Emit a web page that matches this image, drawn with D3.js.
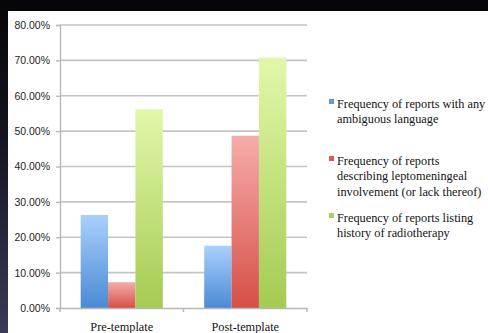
<!DOCTYPE html>
<html>
<head>
<meta charset="utf-8">
<script src="https://cdn.jsdelivr.net/npm/d3@7"></script>
<style>
  html, body { margin: 0; padding: 0; }
  body { width: 488px; height: 333px; overflow: hidden;
         background: linear-gradient(to bottom, #050509 0%, #14141f 40%, #3a3a58 100%); }
</style>
</head>
<body>
<svg id="chart" width="488" height="333"></svg>
<script>
const categories = ["Pre-template", "Post-template"];
const seriesNames = [
  "Frequency of reports with any ambiguous language",
  "Frequency of reports describing leptomeningeal involvement (or lack thereof)",
  "Frequency of reports listing history of radiotherapy"
];
const ambiguous = [0.263, 0.176];
const leptomeningeal = [0.073, 0.487];
const radiotherapy = [0.562, 0.708];
const yTicks = [0, 0.1, 0.2, 0.3, 0.4, 0.5, 0.6, 0.7, 0.8];
const legendLines = [
  ["Frequency of reports with any", "ambiguous language"],
  ["Frequency of reports", "describing leptomeningeal", "involvement (or lack thereof)"],
  ["Frequency of reports listing", "history of radiotherapy"]
];

const series = [ambiguous, leptomeningeal, radiotherapy];
const colors = [
  { top: "#aad0fc", bottom: "#4a8ad4", key: "#5b9bd5" },
  { top: "#f6acab", bottom: "#d64f47", key: "#e05a55" },
  { top: "#e2f8aa", bottom: "#a4cb52", key: "#a8d060" }
];

const svg = d3.select("#chart");

// white panel
svg.append("rect").attr("x", 8).attr("y", 11).attr("width", 480).attr("height", 322).attr("fill", "#ffffff");

const defs = svg.append("defs");
colors.forEach((c, i) => {
  const g = defs.append("linearGradient").attr("id", "grad" + i)
    .attr("x1", 0).attr("y1", 0).attr("x2", 0).attr("y2", 1);
  g.append("stop").attr("offset", "0%").attr("stop-color", c.top);
  g.append("stop").attr("offset", "100%").attr("stop-color", c.bottom);
});

const plot = { left: 60, right: 307, top: 25, bottom: 308 };

const y = d3.scaleLinear().domain([0, 0.8]).range([plot.bottom, plot.top]);
const x0 = d3.scaleBand().domain(categories).range([plot.left, plot.right]).paddingInner(0.335).paddingOuter(0.1675);
const x1 = d3.scaleBand().domain(d3.range(series.length)).range([0, x0.bandwidth()]);

// gridlines
svg.append("g").selectAll("line").data(yTicks.filter(d => d > 0)).join("line")
  .attr("x1", plot.left).attr("x2", plot.right)
  .attr("y1", d => y(d)).attr("y2", d => y(d))
  .attr("stroke", "#c4c4c4").attr("stroke-width", 1.6);

// y axis
const yAxis = d3.axisLeft(y).tickValues(yTicks).tickFormat(d3.format(".2%")).tickSize(4).tickPadding(6);
const gy = svg.append("g").attr("transform", `translate(${plot.left},0)`).call(yAxis);
gy.select(".domain").attr("stroke", "#b8b8b8").attr("stroke-width", 1.4);
gy.selectAll(".tick line").attr("stroke", "#b8b8b8").attr("stroke-width", 1.4);
gy.selectAll(".tick text").attr("font-family", "Liberation Sans, Arial, sans-serif")
  .attr("font-size", 10.5).attr("fill", "#1e1e1e");

// bars
categories.forEach((cat, ci) => {
  svg.append("g").selectAll("rect").data(series.map((s, si) => ({ si, v: s[ci] }))).join("rect")
    .attr("x", d => x0(cat) + x1(d.si))
    .attr("width", x1.bandwidth())
    .attr("y", d => y(d.v))
    .attr("height", d => y(0) - y(d.v))
    .attr("fill", d => `url(#grad${d.si})`);
});

// x axis
const xAxis = d3.axisBottom(x0).tickSize(0).tickPadding(14);
const gx = svg.append("g").attr("transform", `translate(0,${plot.bottom})`).call(xAxis);
gx.select(".domain").attr("stroke", "#b8b8b8").attr("stroke-width", 1.4);
gx.selectAll(".tick text").attr("font-family", "Liberation Serif, Times New Roman, serif")
  .attr("font-size", 12.3).attr("fill", "#141414");
// category separators
const seps = [plot.left, x0.step() + plot.left, plot.right];
svg.append("g").selectAll("line").data(seps).join("line")
  .attr("x1", d => d).attr("x2", d => d)
  .attr("y1", plot.bottom).attr("y2", plot.bottom + 4)
  .attr("stroke", "#b8b8b8").attr("stroke-width", 1.4);

// legend
const legendTop = [105, 162, 219];
const lg = svg.append("g");
legendLines.forEach((lines, i) => {
  lg.append("rect").attr("x", 329).attr("y", legendTop[i] - 6).attr("width", 5).attr("height", 5)
    .attr("fill", colors[i].key);
  const t = lg.append("text").attr("x", 337).attr("y", legendTop[i] + 3)
    .attr("font-family", "Liberation Serif, Times New Roman, serif")
    .attr("font-size", 12.3).attr("fill", "#141414");
  lines.forEach((ln, k) => {
    t.append("tspan").attr("x", 337).attr("dy", k === 0 ? 0 : 15.3).text(ln);
  });
});
</script>
</body>
</html>
